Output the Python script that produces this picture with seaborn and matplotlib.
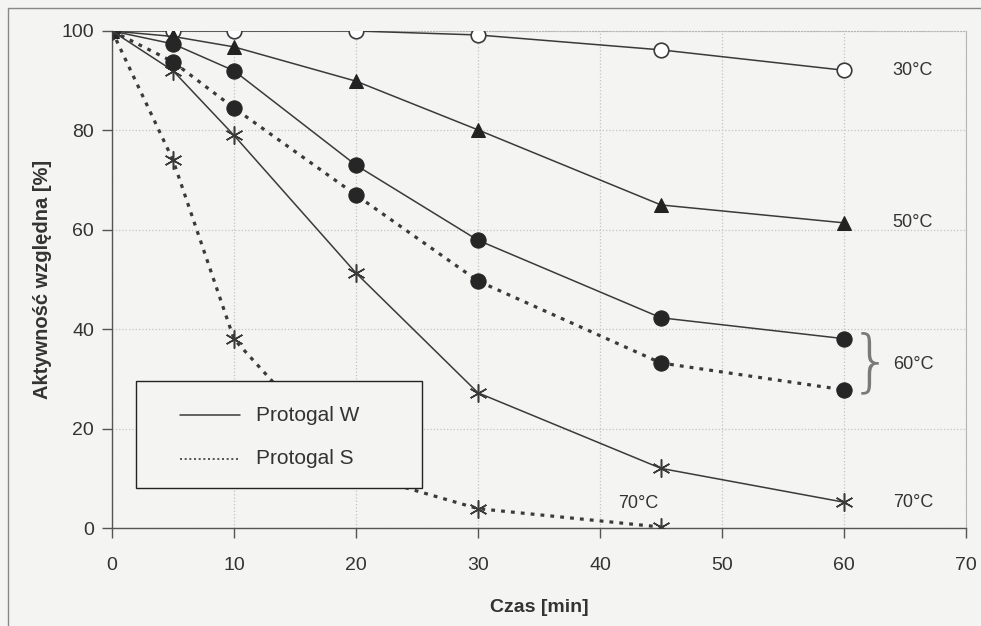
import matplotlib
matplotlib.use("Agg")
import matplotlib.pyplot as plt
import seaborn as sns
from matplotlib.lines import Line2D
from matplotlib.patches import Rectangle

# =========================
# DANE
# =========================
czas = [0, 5, 10, 20, 30, 45, 60]
w_30 = [100, 100, 100, 100, 99.2, 96.2, 92.1]
w_50 = [100, 98.9, 96.8, 89.9, 80.1, 65.0, 61.4]
w_60 = [100, 97.4, 92.0, 73.0, 57.9, 42.3, 38.1]
s_60 = [100, 93.8, 84.5, 67.0, 49.7, 33.2, 27.8]
w_70 = [100, 92.0, 79.0, 51.3, 27.2, 12.0, 5.2]
czas_s70 = [0, 5, 10, 20, 30, 45]
s_70 = [100, 74.0, 38.0, 11.0, 3.9, 0.2]

BG = "#f4f4f3"
LINE = "#3a3a3a"
TXT = "#333333"

sns.set_style("white")
plt.rcParams["font.family"] = ["Liberation Sans", "DejaVu Sans"]

fig = plt.figure(figsize=(9.81, 6.26), dpi=100, facecolor=BG)
ax = fig.add_axes([0.1142, 0.1565, 0.8705, 0.794])
ax.set_facecolor(BG)

ASTER = (6, 2, 0)
dot = (0, (1.2, 1.9))

# Protogal W (linia ciągła)
sns.lineplot(x=czas, y=w_30, color=LINE, lw=1.1, marker="o", markersize=10.5,
             markerfacecolor="white", markeredgecolor=LINE, markeredgewidth=1.2, ax=ax, zorder=4)
sns.lineplot(x=czas, y=w_50, color=LINE, lw=1.1, marker="^", markersize=10.5,
             markerfacecolor="#222222", markeredgecolor="#222222", ax=ax, zorder=4)
sns.lineplot(x=czas, y=w_60, color=LINE, lw=1.1, marker="o", markersize=11,
             markerfacecolor="#262626", markeredgecolor="#262626", ax=ax, zorder=4)
sns.lineplot(x=czas, y=w_70, color=LINE, lw=1.1, marker=ASTER, markersize=13,
             markeredgecolor=LINE, markeredgewidth=1.1, ax=ax, zorder=4)

# Protogal S (linia kropkowana)
sns.lineplot(x=czas, y=s_60, color=LINE, lw=2.3, linestyle=dot, marker="o", markersize=11,
             markerfacecolor="#262626", markeredgecolor="#262626", ax=ax, zorder=4)
sns.lineplot(x=czas_s70, y=s_70, color=LINE, lw=2.3, linestyle=dot, marker=ASTER, markersize=13,
             markeredgecolor=LINE, markeredgewidth=1.1, ax=ax, zorder=4)

# osie
ax.set_xlim(0, 70)
ax.set_ylim(0, 100)
ax.set_xticks(range(0, 71, 10))
ax.set_yticks(range(0, 101, 20))
ax.grid(True, color="#c4c4c4", linestyle=":", lw=0.9)
ax.set_axisbelow(True)
for s in ["left", "bottom"]:
    ax.spines[s].set_color("#555555")
    ax.spines[s].set_linewidth(1.0)
for s in ["top", "right"]:
    ax.spines[s].set_color("#b5b5b5")
    ax.spines[s].set_linewidth(0.8)
ax.spines["top"].set_linestyle(":")
ax.tick_params(axis="both", direction="out", length=7, width=1, color="#555555",
               labelsize=14, labelcolor=TXT, left=True, bottom=True)
ax.tick_params(axis="x", pad=14)
ax.tick_params(axis="y", pad=6)
ax.set_xlabel("Czas [min]", fontsize=14, weight="bold", color=TXT, labelpad=18)
ax.set_ylabel("Aktywność względna [%]", fontsize=14.5, weight="bold", color=TXT, labelpad=7)
for lab in ax.get_xticklabels() + ax.get_yticklabels():
    lab.set_clip_on(False)

# opisy temperatur
for yv, t in [(w_30[-1], "30°C"), (w_50[-1], "50°C"), (w_70[-1], "70°C")]:
    ax.text(64.0, yv, t, fontsize=13, color=TXT, va="center", ha="left")
ax.text(64.0, (w_60[-1] + s_60[-1]) / 2, "60°C", fontsize=13, color=TXT, va="center", ha="left")
ax.text(62.2, (w_60[-1] + s_60[-1]) / 2, "}", fontsize=48, color="#7a7a7a", va="center",
        ha="center", family="DejaVu Sans", fontweight="light")
ax.text(44.8, 5.0, "70°C", fontsize=13, color=TXT, va="center", ha="right")

# legenda (ramka + opisy w układzie osi)
ax.add_patch(Rectangle((0.028, 0.080), 0.335, 0.216, transform=ax.transAxes,
                       facecolor=BG, edgecolor="#222222", lw=1.0, zorder=10))
ax.add_line(Line2D([0.0796, 0.150], [0.227, 0.227], transform=ax.transAxes,
                   color=LINE, lw=1.1, zorder=11))
ax.add_line(Line2D([0.0796, 0.150], [0.139, 0.139], transform=ax.transAxes,
                   color=LINE, lw=1.2, linestyle=(0, (1.2, 1.6)), zorder=11))
ax.text(0.169, 0.227, "Protogal W", transform=ax.transAxes, fontsize=15, color=TXT,
        va="center", ha="left", zorder=11)
ax.text(0.169, 0.139, "Protogal S", transform=ax.transAxes, fontsize=15, color=TXT,
        va="center", ha="left", zorder=11)

# ramka wykresu
fig.patches.append(Rectangle((8 / 981, -0.05), 1.1, 1 - 8 / 626 + 0.05, transform=fig.transFigure,
                             fill=False, edgecolor="#888888", lw=1.0))

fig.savefig("out.png", dpi=100, facecolor=BG)
